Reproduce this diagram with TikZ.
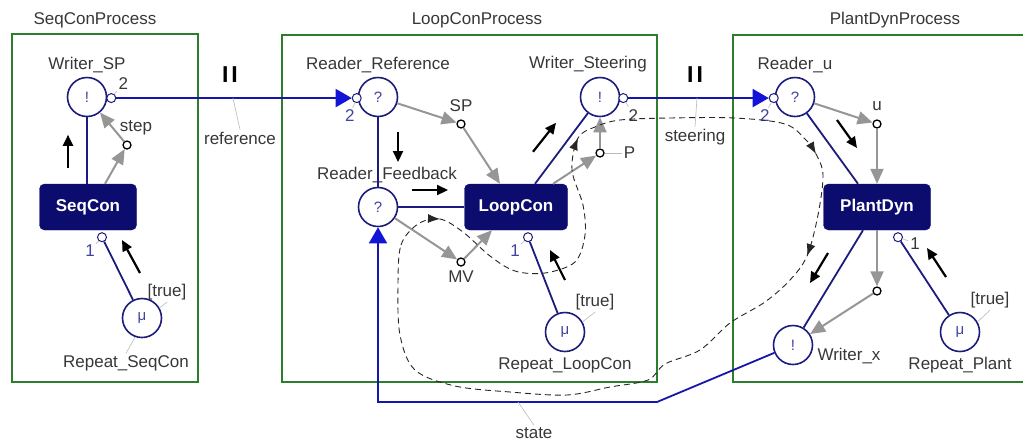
\documentclass[tikz,border=0pt]{standalone}
\usepackage{fontspec}
\setmainfont{Liberation Sans}
\usepackage{xcolor}
\usetikzlibrary{arrows.meta,positioning,calc}

\definecolor{blocknavy}{RGB}{12,12,110}
\definecolor{ringblue}{RGB}{28,28,125}
\definecolor{chanblue}{RGB}{22,22,170}
\definecolor{chanhead}{RGB}{20,20,215}
\definecolor{framegreen}{RGB}{45,125,45}
\definecolor{flowgray}{RGB}{150,150,150}
\definecolor{portblue}{RGB}{65,65,160}
\definecolor{txtgray}{RGB}{55,55,55}

\begin{document}
\begin{tikzpicture}[
    x=1pt, y=-1pt,
    every node/.style={font=\fontsize{17}{19}\selectfont, text=txtgray},
    lbl/.style={inner sep=2pt},
    numlbl/.style={inner sep=1pt, text=portblue},
    procframe/.style={draw=framegreen, line width=1.8pt},
    chan/.style={
      circle, draw=ringblue, line width=1.6pt, fill=white,
      minimum size=39pt, inner sep=0pt, text=portblue,
      font=\fontsize{15}{15}\selectfont
    },
    blockbox/.style={
      rectangle, rounded corners=5pt, draw=blocknavy, fill=blocknavy,
      text=white, font=\fontsize{17}{17}\selectfont\bfseries, minimum height=46pt
    },
    port/.style={circle, draw=black, line width=1.3pt, fill=white, minimum size=8pt, inner sep=0pt},
    cport/.style={circle, draw=ringblue, line width=1pt, fill=white, minimum size=9pt, inner sep=0pt},
    wire/.style={draw=ringblue, line width=1.8pt},
    chanline/.style={draw=chanblue, line width=1.8pt, -{Triangle[length=16pt,width=18pt,color=chanhead]}},
    flow/.style={draw=flowgray, line width=2pt, -{Triangle[length=15pt,width=13pt]}},
    dirarr/.style={draw=black, line width=2.2pt, -{Triangle[length=11pt,width=10pt]}},
    leader/.style={draw=gray!55, line width=0.6pt},
    bars/.style={text=black, font=\fontsize{23}{23}\selectfont\bfseries},
    loopline/.style={draw=black!85, line width=0.9pt, dash pattern=on 6pt off 4pt},
    looptip/.style={draw=black!85, line width=0.9pt, -{Latex[length=12pt,width=9pt]}}
  ]
    \useasboundingbox (0,0) rectangle (1023,440);

    % Process frames
    \draw[procframe] (12,34) rectangle (198,382);
    \draw[procframe] (282,35) rectangle (657,382);
    \draw[procframe] (733,35) rectangle (1030,382);
    \node (seqtitle) at (95,20) {SeqConProcess};
    \node (looptitle) at (477,20) {LoopConProcess};
    \node (planttitle) at (895,20) {PlantDynProcess};

    % SeqConProcess
    \node[chan] (wsp) at (87,97) {!};
    \node[lbl, above=2pt of wsp] (wsplbl) {Writer\_SP};
    \node[cport] (wspport) at ([xshift=4pt]wsp.-3) {};
    \node[lbl] (wsp2) at ([xshift=12pt,yshift=15pt]wspport) {2};
    \node[blockbox, minimum width=97pt] (seqcon) at (88,207) {SeqCon};
    \node[port] (stepport) at (127,145) {};
    \node[lbl] (steplbl) at ([xshift=9pt,yshift=17pt]stepport) {step};
    \node[cport] (seqport) at ([xshift=14pt,yshift=-7pt]seqcon.south) {};
    \node[numlbl] (seq1) at ([xshift=-12pt,yshift=-13pt]seqport) {1};
    \node[chan] (seqmu) at (142,318) {μ};
    \node[lbl, below=15pt of seqmu, xshift=-16pt] (seqmulbl) {Repeat\_SeqCon};
    \node[lbl] (seqtrue) at ([xshift=25pt,yshift=26pt]seqmu.center) {[true]};

    \draw[wire] (wsp.south) -- (wsp.south |- seqcon.north);
    \draw[wire] (seqport) -- (seqmu);
    \draw[flow] ([xshift=17pt]seqcon.north) -- (stepport);
    \draw[flow] (stepport) -- (wsp);
    \draw[leader] (wspport) -- (wsp2);
    \draw[leader] (seqport) -- (seq1);
    \draw[leader] (seqmu.30) -- (seqtrue.south);
    \draw[leader] (seqmu.250) -- (seqmulbl.north);
    \draw[dirarr] ([xshift=-20pt,yshift=16pt]seqcon.north) -- ++(0,-33);
    \draw[dirarr] ([xshift=-2pt,yshift=45pt]seqmu.center) -- ++(-18,-33);

    % LoopConProcess
    \node[chan] (rref) at (378,97) {?};
    \node[lbl, above=2pt of rref] (rreflbl) {Reader\_Reference};
    \node[cport] (rrefport) at ([xshift=-1pt]rref.183) {};
    \node[numlbl] (rref2) at ([xshift=-7pt,yshift=-17pt]rrefport) {2};
    \node[chan] (rfb) at (378,207) {?};
    \node[lbl, above=2pt of rfb, xshift=9pt] (rfblbl) {Reader\_Feedback};
    \node[blockbox, minimum width=103pt] (loopcon) at (516,207) {LoopCon};
    \node[chan] (wst) at (600,97) {!};
    \node[lbl, above=2pt of wst, xshift=-12pt] (wstlbl) {Writer\_Steering};
    \node[cport] (wstport) at ([xshift=3pt]wst.-3) {};
    \node[lbl] (wst2) at ([xshift=10pt,yshift=-17pt]wstport) {2};
    \node[port] (spport) at (461,124) {};
    \node[lbl, above=5pt of spport] (splbl) {SP};
    \node[port] (pport) at (600,153) {};
    \node[lbl, right=17pt of pport] (plbl) {P};
    \node[port] (mvport) at (461,262) {};
    \node[lbl, below=2pt of mvport] (mvlbl) {MV};
    \node[cport] (loopport) at ([xshift=12pt,yshift=-7pt]loopcon.south) {};
    \node[numlbl] (loop1) at ([xshift=-13pt,yshift=-13pt]loopport) {1};
    \node[chan] (loopmu) at (565,332) {μ};
    \node[lbl, below=3pt of loopmu] (loopmulbl) {Repeat\_LoopCon};
    \node[lbl] (looptrue) at ([xshift=30pt,yshift=30pt]loopmu.center) {[true]};

    \draw[wire] (rref.south) -- (rfb.north);
    \draw[wire] (rfb.east) -- (loopcon.west);
    \draw[wire] (wst) -- ([xshift=19pt]loopcon.north);
    \draw[wire] (loopport) -- (loopmu);
    \draw[flow] (rref) -- (spport);
    \draw[flow] (spport) -- ([xshift=-16pt]loopcon.north);
    \draw[flow] (rfb) -- (mvport);
    \draw[flow] (mvport) -- ([xshift=-24pt]loopcon.south);
    \draw[flow] ([xshift=37pt]loopcon.north) -- (pport);
    \draw[flow] (pport) -- (wst);
    \draw[leader] (rrefport) -- (rref2);
    \draw[leader] (wstport) -- (wst2);
    \draw[leader] (pport) -- (plbl);
    \draw[leader] (loopport) -- (loop1);
    \draw[leader] (loopmu.30) -- (looptrue.south);
    \draw[dirarr] ([xshift=20pt,yshift=-35pt]rref.center) -- ++(0,30);
    \draw[dirarr] ([xshift=34pt,yshift=17pt]rfb.center) -- ++(36,0);
    \draw[dirarr] ([xshift=17pt,yshift=32pt]loopcon.north) -- ++(23,-29);
    \draw[dirarr] ([yshift=52pt]loopmu.center) -- ++(-15,-30);

    % PlantDynProcess
    \node[chan] (ru) at (795,97) {?};
    \node[lbl, above=2pt of ru] (rulbl) {Reader\_u};
    \node[cport] (ruport) at ([xshift=-1pt]ru.183) {};
    \node[numlbl] (ru2) at ([xshift=-9pt,yshift=-17pt]ruport) {2};
    \node[port] (uport) at (877,124) {};
    \node[lbl, above=6pt of uport] (ulbl) {u};
    \node[blockbox, minimum width=107pt] (plantdyn) at (877,207) {PlantDyn};
    \node[port] (xport) at (877,291) {};
    \node[chan] (wx) at (793,345) {!};
    \node[lbl, right=2pt of wx, yshift=-11pt] (wxlbl) {Writer\_x};
    \node[cport] (plantport) at ([xshift=21pt,yshift=-7pt]plantdyn.south) {};
    \node[lbl] (plant1) at ([xshift=17pt,yshift=-6pt]plantport) {1};
    \node[chan] (plantmu) at (960,332) {μ};
    \node[lbl, below=3pt of plantmu] (plantmulbl) {Repeat\_Plant};
    \node[lbl] (planttrue) at ([xshift=30pt,yshift=32pt]plantmu.center) {[true]};

    \draw[wire] (ru) -- ([xshift=-19pt]plantdyn.north);
    \draw[wire] ([xshift=-14pt]plantdyn.south) -- (wx);
    \draw[wire] (plantport) -- (plantmu);
    \draw[flow] (ru) -- (uport);
    \draw[flow] (uport) -- (plantdyn.north);
    \draw[flow] (plantdyn.south) -- (xport);
    \draw[flow] (xport) -- (wx);
    \draw[leader] (ruport) -- (ru2);
    \draw[leader] (plantport) -- (plant1);
    \draw[leader] (plantmu.30) -- (planttrue.south);
    \draw[dirarr] ([xshift=42pt,yshift=-23pt]ru.center) -- ++(20,28);
    \draw[dirarr] ([xshift=35pt,yshift=92pt]wx.center) -- ++(-18,30);
    \draw[dirarr] ([xshift=-14pt,yshift=55pt]plantmu.center) -- ++(-19,-29);

    % Channels
    \draw[chanline] (wspport) -- (rrefport);
    \draw[chanline] (wstport) -- (ruport);
    \coordinate (statebend) at (657,402);
    \draw[chanline] (wx) -- (statebend) -| (rfb);

    \node[bars] (refbars) at (230,75) {I\hspace{3pt}I};
    \node[bars] (steerbars) at (695,75) {I\hspace{3pt}I};
    \node[lbl] (reflbl) at (240,138) {reference};
    \node[lbl] (steerlbl) at (695,137) {steering};
    \node[lbl] (statelbl) at (534,433) {state};
    \coordinate (refpt) at (233,98);
    \coordinate (steerpt) at (697,98);
    \coordinate (statept) at (518,402);
    \draw[leader] (refpt) -- (reflbl.north);
    \draw[leader] (steerpt) -- (steerlbl.north);
    \draw[leader] (statept) -- (statelbl.north);

    % Control loop
    \draw[loopline]
      plot[smooth cycle, tension=0.55] coordinates {
        (398,285) (401,245) (418,224) (440,219) (463,232) (490,256) (515,271)
        (545,273) (575,262) (585,235) (583,205) (572,170) (578,138) (595,127)
        (620,120) (670,118) (735,118) (785,124) (806,140) (816,154) (823,175)
        (818,215) (807,256) (790,280) (765,302) (730,323) (700,350) (665,364) (648,380)
        (610,387) (567,395) (510,392) (455,386) (415,370) (400,335)};
    \coordinate (looptipa) at (440,219);
    \coordinate (looptipb) at (578,138);
    \coordinate (looptipc) at (816,154);
    \coordinate (looptipd) at (807,256);
    \draw[looptip] ([shift={(-12,-0.5)}]looptipa) -- (looptipa);
    \draw[looptip] ([shift={(-4.5,11)}]looptipb) -- (looptipb);
    \draw[looptip] ([shift={(-6,-10.5)}]looptipc) -- (looptipc);
    \draw[looptip] ([shift={(4,-11.3)}]looptipd) -- (looptipd);

  \end{tikzpicture}
\end{document}
